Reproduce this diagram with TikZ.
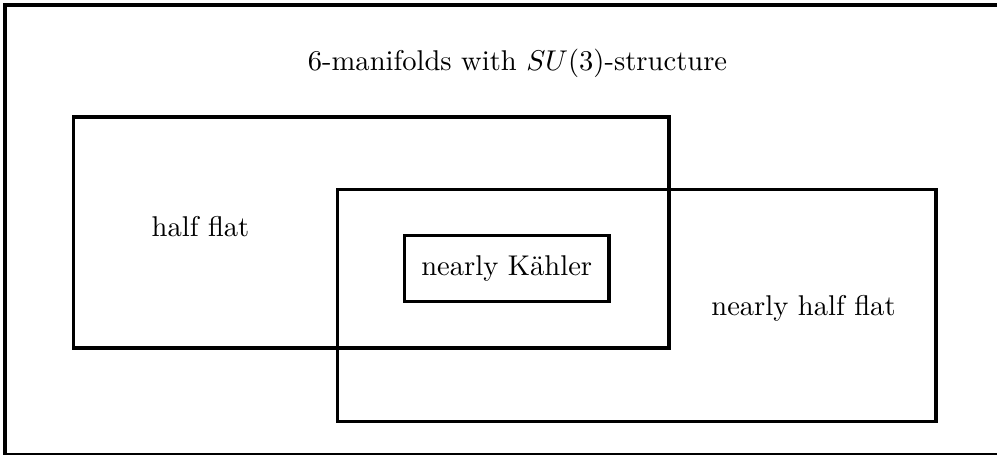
\documentclass[tikz,border=0pt]{standalone}
\begin{document}
\begin{tikzpicture}[x=0.35pt,y=-0.35pt,
  frame/.style={draw,line width=1.2pt,inner sep=0pt,outer sep=0pt},
  lbl/.style={inner sep=0pt}]
\useasboundingbox (0,0) rectangle (997,454);
\node[frame,minimum width=348.3pt,minimum height=157.3pt] (outer) at (502.5,229.5) {};
\node[frame,minimum width=208.4pt,minimum height=80.85pt] (hf) at (371.25,232.5) {};
\node[frame,minimum width=209.5pt,minimum height=81.2pt] (nhf) at (636.75,305.5) {};
\node[frame,fill=white,minimum width=71.6pt,minimum height=23.1pt] (nk) at (506.75,268.5) {nearly K\"ahler};
\node[lbl] (title) at (517.5,63.5) {6-manifolds with $SU(3)$-structure};
\node[lbl] (hft) at (200.5,226.5) {half flat};
\node[lbl] (nhft) at (803.5,308) {nearly half flat};
\end{tikzpicture}
\end{document}
